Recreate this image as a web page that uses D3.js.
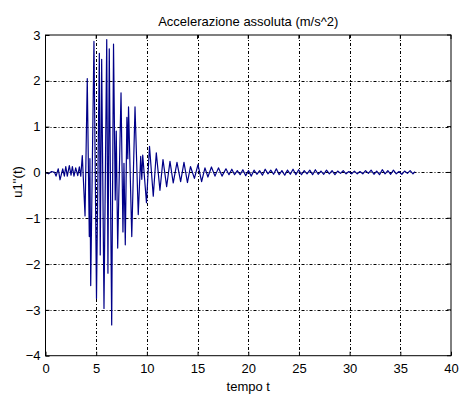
<!DOCTYPE html>
<html>
<head>
<meta charset="utf-8">
<script src="https://cdn.jsdelivr.net/npm/d3@7"></script>
<style>
  html, body { margin: 0; padding: 0; background: #ffffff; }
  svg { display: block; }
  text { font-family: "Liberation Sans", Arial, Helvetica, sans-serif; fill: #000; }
</style>
</head>
<body>
<svg id="chart" width="460" height="397"></svg>
<script>
const titleText = "Accelerazione assoluta (m/s^2)";
const xLabelText = "tempo t";
const yLabelText = "u1''(t)";
const xTicks = [0, 5, 10, 15, 20, 25, 30, 35, 40];
const yTicks = [-4, -3, -2, -1, 0, 1, 2, 3];

const timeValues = [
  0, 0.3, 0.6, 0.9, 1.04, 1.26, 1.43, 1.70, 1.86, 2.00, 2.15, 2.35, 2.52, 2.65, 2.81, 2.98, 3.18, 3.34, 3.48, 3.63,
  3.90, 4.12, 4.32, 4.38, 4.46, 4.78, 5.03, 5.31, 5.40, 5.54, 5.77, 6.04, 6.16, 6.29, 6.53, 6.71, 6.88, 6.98, 7.12,
  7.45, 7.64, 7.74, 7.87, 8.03, 8.12, 8.19, 8.51, 8.83, 9.15, 9.39, 9.50, 9.59, 9.96, 10.26, 10.63, 10.93, 11.29,
  11.59, 11.95, 12.28, 12.60, 12.97, 13.33, 13.66, 14.00, 14.30, 14.69, 15.04, 15.40, 15.73, 16.02, 16.37, 16.72,
  17.06, 17.41, 17.80, 18.10,
  18.38, 18.65, 18.92, 19.20, 19.47, 19.75, 20.02, 20.30, 20.57, 20.85, 21.12, 21.40, 21.67, 21.95, 22.22, 22.50,
  22.77, 23.05, 23.32, 23.60, 23.87, 24.15, 24.42, 24.70, 24.97, 25.25, 25.52, 25.80, 26.07, 26.35, 26.62, 26.90,
  27.17, 27.45, 27.72, 28.00, 28.27, 28.55, 28.82, 29.10, 29.37, 29.65, 29.92, 30.20, 30.47, 30.75, 31.02, 31.30,
  31.57, 31.85, 32.12, 32.40, 32.67, 32.95, 33.22, 33.50, 33.77, 34.05, 34.32, 34.60, 34.87, 35.15, 35.42, 35.70,
  35.97, 36.25, 36.45
];
const accelValues = [
  0, -0.03, 0.02, 0.0, -0.08, 0.08, -0.16, 0.08, -0.08, 0.13, -0.08, 0.15, -0.06, 0.13, -0.08, 0.10, -0.07, 0.12, -0.08, 0.37,
  -0.95, 2.05, -1.4, 0.3, -2.47, 2.86, -2.75, 2.6, -1.8, 2.47, -2.97, 2.9, -2.2, 2.7, -3.33, 2.8, -0.6, 0.9, -1.65,
  1.74, -1.3, 0.2, -1.58, 1.2, 0.3, 1.43, -1.4, 1.43, -0.92, 0.35, -0.15, 0.38, -0.66, 0.57, -0.52, 0.43, -0.39,
  0.28, -0.31, 0.24, -0.23, 0.22, -0.2, 0.22, -0.22, 0.13, -0.13, 0.17, -0.2, 0.1, -0.1, 0.12, -0.08,
  0.1, -0.08, 0.08, -0.05,
  0.07, -0.05, 0.04, -0.05, 0.06, -0.07, 0.04, -0.08, 0.05, -0.04, 0.04, -0.06, 0.07, -0.03, 0.05, -0.04,
  0.08, -0.05, 0.04, -0.06, 0.05, -0.04, 0.07, -0.05, 0.06, -0.05, 0.04, -0.03, 0.05, -0.05, 0.06, -0.04,
  0.03, -0.04, 0.05, -0.03, 0.04, -0.05, 0.03, -0.02, 0.04, -0.03, 0.02, -0.03, 0.03, -0.03, 0.02, -0.03,
  0.04, -0.02, 0.05, -0.04, 0.03, -0.05, 0.06, -0.03, 0.04, -0.04, 0.05, -0.03, 0.02, -0.04, 0.03, -0.02,
  0.04, -0.03, 0.02
];

const svg = d3.select("#chart");
const pLeft = 45.5, pRight = 451, pTop = 35, pBottom = 355.7;

const x = d3.scaleLinear().domain([0, 40]).range([pLeft, pRight]);
const y = d3.scaleLinear().domain([-4, 3]).range([pBottom, pTop]);

// grid
const grid = svg.append("g").attr("stroke", "#000").attr("stroke-width", 1)
  .attr("stroke-dasharray", "3,2,1,2").attr("fill", "none");
xTicks.filter(t => t > 0 && t < 40).forEach(t => {
  const px = Math.round(x(t)) + 0.5;
  grid.append("line").attr("x1", px).attr("x2", px).attr("y1", pTop).attr("y2", pBottom);
});
yTicks.filter(t => t > -4 && t < 3).forEach(t => {
  const py = Math.round(y(t)) + 0.5;
  grid.append("line").attr("x1", pLeft).attr("x2", pRight).attr("y1", py).attr("y2", py);
});

// data line
svg.append("clipPath").attr("id", "clip").append("rect")
  .attr("x", pLeft).attr("y", pTop).attr("width", pRight - pLeft).attr("height", pBottom - pTop);
const pts = timeValues.map((t, i) => [t, accelValues[i]]);
const line = d3.line().x(d => x(d[0])).y(d => y(d[1]));
svg.append("path").datum(pts).attr("clip-path", "url(#clip)")
  .attr("d", line).attr("fill", "none").attr("stroke", "#000088").attr("stroke-width", 1.2)
  .attr("stroke-linejoin", "round");

// axes
const fmt = d3.format("d");
const xAxis = d3.axisBottom(x).tickValues(xTicks).tickFormat(fmt).tickSize(-4).tickPadding(8);
const yAxis = d3.axisLeft(y).tickValues(yTicks).tickFormat(fmt).tickSize(-4).tickPadding(5);
const gx = svg.append("g").attr("transform", `translate(0,${pBottom})`).call(xAxis);
const gy = svg.append("g").attr("transform", `translate(${pLeft},0)`).call(yAxis);
[gx, gy].forEach(g => {
  g.select(".domain").remove();
  g.selectAll("line").attr("stroke", "#000");
  g.selectAll("text").attr("font-size", 13).attr("font-family", "Liberation Sans, Arial, sans-serif").attr("fill", "#000");
});

// top/right ticks
const tk = svg.append("g").attr("stroke", "#000");
xTicks.forEach(t => {
  tk.append("line").attr("x1", x(t)).attr("x2", x(t)).attr("y1", pTop).attr("y2", pTop + 4);
});
yTicks.forEach(t => {
  tk.append("line").attr("x1", pRight).attr("x2", pRight - 4).attr("y1", y(t)).attr("y2", y(t));
});

// box
svg.append("rect").attr("x", pLeft).attr("y", pTop).attr("width", pRight - pLeft).attr("height", pBottom - pTop)
  .attr("fill", "none").attr("stroke", "#000").attr("stroke-width", 1);

// labels
svg.append("text").attr("x", (pLeft + pRight) / 2).attr("y", 26).attr("text-anchor", "middle")
  .attr("font-size", 13).text(titleText);
svg.append("text").attr("x", (pLeft + pRight) / 2).attr("y", 391).attr("text-anchor", "middle")
  .attr("font-size", 13).text(xLabelText);
svg.append("text").attr("transform", "translate(22,182) rotate(-90)").attr("text-anchor", "middle")
  .attr("font-size", 13).text(yLabelText);
</script>
</body>
</html>
